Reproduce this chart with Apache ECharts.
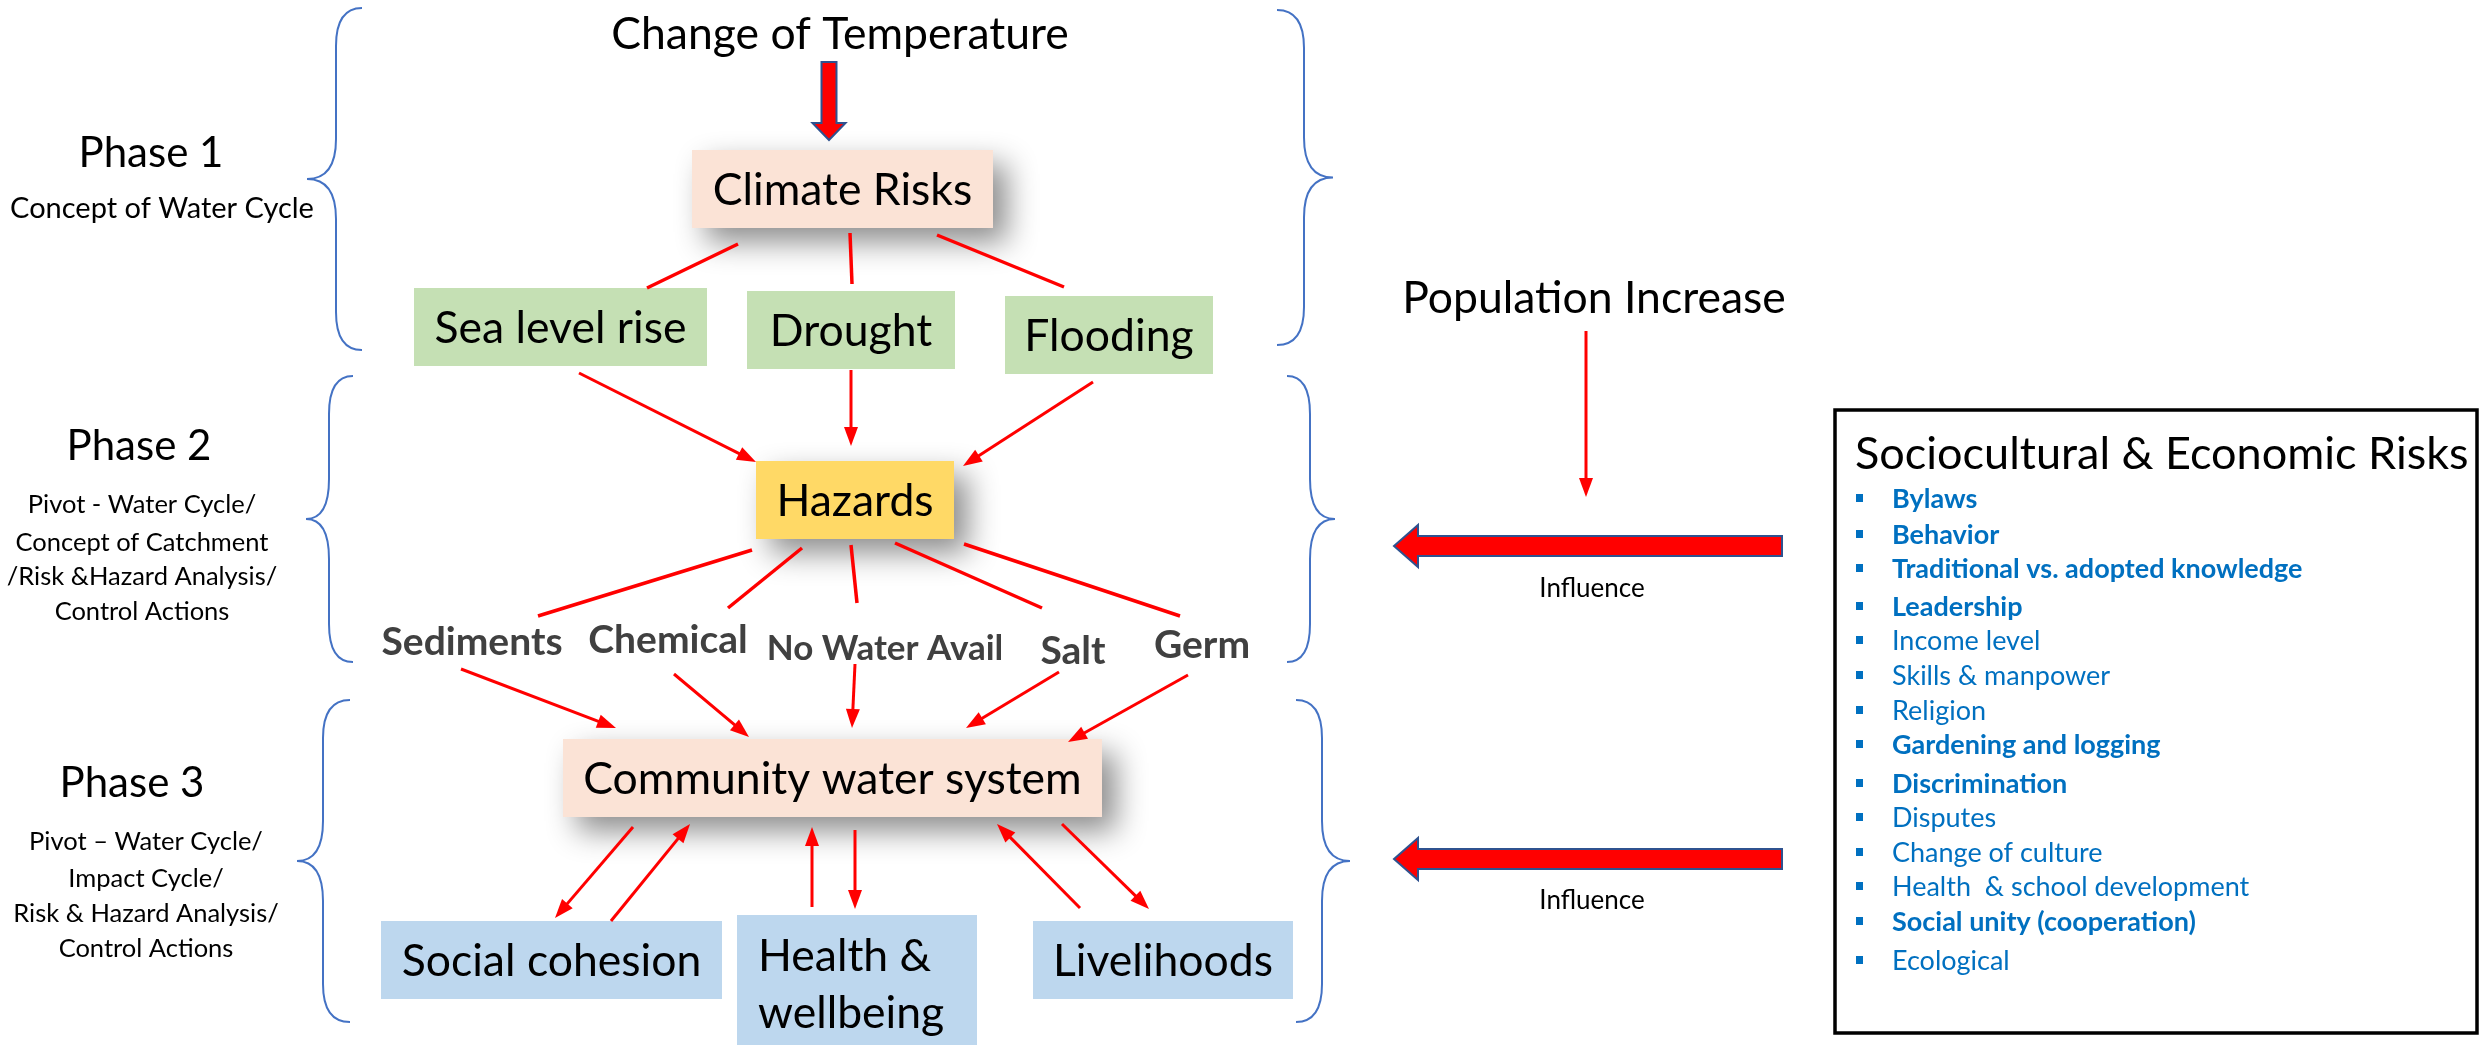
<!DOCTYPE html>
<html>
<head>
<meta charset="utf-8">
<title>Climate & sociocultural risks - water cycle phases</title>
<script src="https://cdn.jsdelivr.net/npm/echarts@6/dist/echarts.min.js"></script>
<style>
  html, body { margin: 0; padding: 0; background: #fff; }
  #main { width: 2481px; height: 1045px; }
</style>
</head>
<body>
<div id="main"></div>
<script>
// ---------- content ----------
const topDriver = 'Change of Temperature';
const sideDriver = 'Population Increase';
const influenceLabel = 'Influence';
const phaseTitles = ['Phase 1', 'Phase 2', 'Phase 3'];
const phaseNotes = [
  ['Concept of Water Cycle'],
  ['Pivot - Water Cycle/', 'Concept of Catchment', '/Risk &Hazard Analysis/', 'Control Actions'],
  ['Pivot \u2013 Water Cycle/', 'Impact Cycle/', 'Risk & Hazard Analysis/', 'Control Actions']
];
const boxLabels = ['Climate Risks', 'Sea level rise', 'Drought', 'Flooding', 'Hazards',
  'Community water system', 'Social cohesion', 'Health &\nwellbeing', 'Livelihoods'];
const hazardLabels = ['Sediments', 'Chemical', 'No Water Avail', 'Salt', 'Germ'];
const riskTitle = 'Sociocultural & Economic Risks';
const riskItems = ['Bylaws', 'Behavior', 'Traditional vs. adopted knowledge', 'Leadership',
  'Income level', 'Skills & manpower', 'Religion', 'Gardening and logging', 'Discrimination',
  'Disputes', 'Change of culture', 'Health  & school development', 'Social unity (cooperation)',
  'Ecological'];
const riskKey = [1, 1, 1, 1, 0, 0, 0, 1, 1, 0, 0, 0, 1, 0]; // highlighted items

// ---------- layout (sheet units, 2481 x 1045) ----------
const W = 2481, H = 1045;
const FONT = 'Lato, sans-serif';
const RED = '#FF0000';

const boxRects = [
  [692, 150, 993, 228], [414, 288, 707, 366], [747, 291, 955, 369], [1005, 296, 1213, 374],
  [756, 461, 954, 539], [563, 739, 1102, 817],
  [381, 921, 722, 999], [737, 915, 977, 1052], [1033, 921, 1293, 999]
];
const boxFills = ['#FBE3D6', '#C5E0B4', '#C5E0B4', '#C5E0B4', '#FFD966', '#FBE3D6', '#BDD7EE', '#BDD7EE', '#BDD7EE'];
const boxShadow = [1, 0, 0, 0, 1, 1, 0, 0, 0];
const boxTextLeft = [0, 0, 0, 0, 0, 0, 0, 758, 0];

// connectors without head
const plainLinks = [
  [738, 244, 647, 288], [850, 233, 852, 284], [937, 235, 1064, 287],
  [752, 550, 538, 616], [802, 548, 728, 608], [851, 545, 857, 603], [895, 543, 1042, 608], [964, 544, 1180, 616]
];
// connectors with head at the second point
const arrowLinks = [
  [579, 373, 756, 462], [851, 370, 851, 446], [1093, 382, 963, 466],
  [461, 669, 616, 728], [674, 674, 749, 737], [855, 664, 852, 728], [1059, 672, 966, 728], [1188, 675, 1068, 742],
  [633, 827, 555, 918], [611, 921, 690, 824], [812, 907, 812, 827], [855, 830, 855, 909],
  [1080, 908, 997, 824], [1062, 824, 1149, 909],
  [1586, 331, 1586, 497]
];
// [xEnd, xSpine, xTip, yTop, yBottom]
const braces = [
  [362, 336, 307, 8, 350], [1277, 1304, 1333, 10, 345],
  [353, 329, 306, 376, 662], [1287, 1310, 1335, 376, 662],
  [350, 323, 297, 700, 1022], [1296, 1322, 1350, 700, 1022]
];
// [tailX, tailY, tipX, tipY, shaftWidth, headWidth, headLength]
const blockArrows = [
  [829, 62, 829, 140, 15, 33, 17],
  [1782, 546, 1394, 546, 20, 42, 24],
  [1782, 859, 1394, 859, 20, 42, 24]
];

const phaseTitlePos = [[151, 151], [139, 444], [132, 781]];
const phaseNoteX = [162, 142, 146];
const phaseNoteY = [[207], [503, 541, 575, 610], [840, 877, 912, 947]];
const hazardPos = [[472, 640], [668, 638], [885, 647], [1073, 649], [1202, 643]];
const hazardSize = [39, 39, 35, 39, 39];
const riskFrame = [1835, 410, 2477, 1033];
const riskTitlePos = [1855, 452];
const riskItemY = [497, 533, 567, 605, 639, 674, 709, 743, 782, 816, 851, 885, 920, 959];
const riskBulletX = 1860, riskTextX = 1892;

// ---------- free text marks ----------
const texts = [];
texts.push({ t: topDriver, p: [840, 33], size: 44.5 });
texts.push({ t: sideDriver, p: [1594, 297], size: 44.5, shadow: true });
texts.push({ t: influenceLabel, p: [1592, 587], size: 26 });
texts.push({ t: influenceLabel, p: [1592, 899], size: 26 });
phaseTitles.forEach(function (t, i) { texts.push({ t: t, p: phaseTitlePos[i], size: 42 }); });
phaseNotes.forEach(function (lines, i) {
  lines.forEach(function (t, j) {
    texts.push({ t: t, p: [phaseNoteX[i], phaseNoteY[i][j]], size: i === 0 ? 29 : 25.5 });
  });
});
hazardLabels.forEach(function (t, i) {
  texts.push({ t: t, p: hazardPos[i], size: hazardSize[i], bold: true, color: '#404040' });
});
texts.push({ t: riskTitle, p: riskTitlePos, size: 45, align: 'left' });
riskItems.forEach(function (t, i) {
  texts.push({ t: t, p: [riskTextX, riskItemY[i]], size: 27, bold: !!riskKey[i], color: '#0070C0', align: 'left' });
});

// ---------- renderers ----------
function renderBox(params, api) {
  const i = params.dataIndex;
  const a = api.coord([api.value(0), api.value(1)]);
  const b = api.coord([api.value(2), api.value(3)]);
  const rectStyle = { fill: boxFills[i] };
  if (boxShadow[i]) {
    rectStyle.shadowBlur = 30;
    rectStyle.shadowOffsetX = 14;
    rectStyle.shadowOffsetY = 14;
    rectStyle.shadowColor = 'rgba(0,0,0,0.45)';
  }
  const left = boxTextLeft[i];
  return {
    type: 'group',
    children: [
      { type: 'rect', shape: { x: a[0], y: a[1], width: b[0] - a[0], height: b[1] - a[1] }, style: rectStyle },
      {
        type: 'text',
        style: {
          text: boxLabels[i],
          x: left ? api.coord([left, 0])[0] : (a[0] + b[0]) / 2,
          y: (a[1] + b[1]) / 2 + 2,
          align: left ? 'left' : 'center',
          verticalAlign: 'middle',
          font: '44.5px ' + FONT,
          lineHeight: 57,
          fill: '#000'
        }
      }
    ]
  };
}

function renderLink(withHead) {
  return function (params, api) {
    const a = api.coord([api.value(0), api.value(1)]);
    const b = api.coord([api.value(2), api.value(3)]);
    const children = [];
    let end = b;
    if (withHead) {
      const dx = b[0] - a[0], dy = b[1] - a[1];
      const d = Math.sqrt(dx * dx + dy * dy);
      const ux = dx / d, uy = dy / d;
      const hl = 19, hw = 14;
      const bx = b[0] - ux * hl, by = b[1] - uy * hl;
      end = [bx + ux * 3, by + uy * 3];
      children.push({
        type: 'polygon',
        shape: { points: [b, [bx - uy * hw / 2, by + ux * hw / 2], [bx + uy * hw / 2, by - ux * hw / 2]] },
        style: { fill: RED }
      });
    }
    children.unshift({
      type: 'line',
      shape: { x1: a[0], y1: a[1], x2: end[0], y2: end[1] },
      style: { stroke: RED, lineWidth: withHead ? 3 : 3.5 }
    });
    return { type: 'group', children: children };
  };
}

function renderBrace(params, api) {
  const xe = api.value(0), xs = api.value(1), xt = api.value(2);
  const yt = api.value(3), yb = api.value(4), ym = (yt + yb) / 2;
  const r = 38, rm = 40;
  const P = function (x, y) { const c = api.coord([x, y]); return c[0].toFixed(1) + ',' + c[1].toFixed(1); };
  const d = 'M' + P(xe, yt) +
    ' Q' + P(xs, yt) + ' ' + P(xs, yt + r) +
    ' L' + P(xs, ym - rm) +
    ' Q' + P(xs, ym) + ' ' + P(xt, ym) +
    ' Q' + P(xs, ym) + ' ' + P(xs, ym + rm) +
    ' L' + P(xs, yb - r) +
    ' Q' + P(xs, yb) + ' ' + P(xe, yb);
  return {
    type: 'path',
    shape: { pathData: d },
    style: { fill: 'none', stroke: '#4472C4', lineWidth: 2 }
  };
}

function renderBlockArrow(params, api) {
  const a = api.coord([api.value(0), api.value(1)]);
  const b = api.coord([api.value(2), api.value(3)]);
  const sw = api.value(4) / 2, hw = api.value(5) / 2, hl = api.value(6);
  const dx = b[0] - a[0], dy = b[1] - a[1];
  const d = Math.sqrt(dx * dx + dy * dy);
  const ux = dx / d, uy = dy / d, nx = -uy, ny = ux;
  const hx = b[0] - ux * hl, hy = b[1] - uy * hl;
  const pts = [
    [a[0] + nx * sw, a[1] + ny * sw],
    [hx + nx * sw, hy + ny * sw],
    [hx + nx * hw, hy + ny * hw],
    b,
    [hx - nx * hw, hy - ny * hw],
    [hx - nx * sw, hy - ny * sw],
    [a[0] - nx * sw, a[1] - ny * sw]
  ];
  return {
    type: 'polygon',
    shape: { points: pts },
    style: { fill: RED, stroke: '#2F528F', lineWidth: 2 }
  };
}

function renderText(params, api) {
  const m = texts[params.dataIndex];
  const c = api.coord([api.value(0), api.value(1)]);
  const style = {
    text: m.t,
    x: c[0],
    y: c[1] + 2,
    align: m.align || 'center',
    verticalAlign: 'middle',
    font: (m.bold ? 'bold ' : '') + m.size + 'px ' + FONT,
    fill: m.color || '#000'
  };
  if (m.shadow) {
    style.shadowBlur = 6;
    style.shadowOffsetX = 2;
    style.shadowOffsetY = 5;
    style.shadowColor = 'rgba(0,0,0,0.35)';
  }
  return { type: 'text', style: style };
}

function renderRiskFrame(params, api) {
  const a = api.coord([api.value(0), api.value(1)]);
  const b = api.coord([api.value(2), api.value(3)]);
  return {
    type: 'rect',
    shape: { x: a[0], y: a[1], width: b[0] - a[0], height: b[1] - a[1] },
    style: { fill: '#fff', stroke: '#000', lineWidth: 3.5 }
  };
}

function renderBullet(params, api) {
  const c = api.coord([api.value(0), api.value(1)]);
  return {
    type: 'rect',
    shape: { x: c[0] - 4, y: c[1] - 3, width: 7, height: 8 },
    style: { fill: '#0070C0' }
  };
}

// ---------- chart ----------
const myChart = echarts.init(document.getElementById('main'));
const option = {
  animation: false,
  backgroundColor: '#fff',
  grid: { left: 0, right: 0, top: 0, bottom: 0 },
  xAxis: { type: 'value', min: 0, max: W, show: false },
  yAxis: { type: 'value', min: 0, max: H, inverse: true, show: false },
  series: [
    { type: 'custom', name: 'risk frame', renderItem: renderRiskFrame, data: [riskFrame], silent: true },
    { type: 'custom', name: 'braces', renderItem: renderBrace, data: braces, silent: true },
    {
      type: 'custom', name: 'boxes', renderItem: renderBox, silent: true,
      data: boxRects.map(function (r, i) { return { name: boxLabels[i], value: r }; })
    },
    { type: 'custom', name: 'lines', renderItem: renderLink(false), data: plainLinks, silent: true },
    { type: 'custom', name: 'arrows', renderItem: renderLink(true), data: arrowLinks, silent: true },
    { type: 'custom', name: 'block arrows', renderItem: renderBlockArrow, data: blockArrows, silent: true },
    {
      type: 'custom', name: 'bullets', renderItem: renderBullet, silent: true,
      data: riskItemY.map(function (y) { return [riskBulletX, y]; })
    },
    {
      type: 'custom', name: 'texts', renderItem: renderText, silent: true,
      data: texts.map(function (m) { return { name: m.t, value: m.p }; })
    }
  ]
};
myChart.setOption(option);
</script>
</body>
</html>
